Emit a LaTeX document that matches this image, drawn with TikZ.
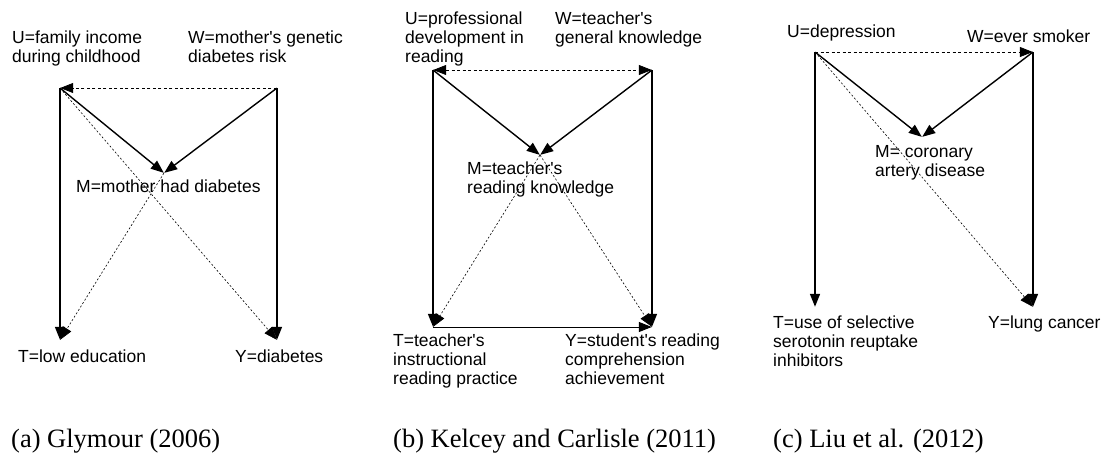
\documentclass[tikz,border=0pt]{standalone}
\usepackage{fontspec}
\setmainfont{Liberation Sans}
\newfontfamily\capfont{Liberation Serif}
\usetikzlibrary{arrows.meta}
\newcommand\ap{\textquotesingle}
\begin{document}
\begin{tikzpicture}[x=1pt,y=-1pt,
  lbl/.style={anchor=base west,inner sep=0pt,align=left,font=\fontsize{17.5}{19}\selectfont},
  captext/.style={anchor=base west,inner sep=0pt,font=\capfont\fontsize{26.5}{30}\selectfont},
  pt/.style={inner sep=0pt,minimum size=0pt},
  tip/.style={-{Triangle[length=13pt,width=10pt]}},
  solidarr/.style={tip,line width=1.4pt},
  vline/.style={tip,line width=1.6pt},
  dasharr/.style={tip,line width=0.8pt,dash pattern=on 3pt off 2.5pt},
  dotarr/.style={tip,line width=0.6pt,dash pattern=on 2pt off 2pt},
  bidash/.style={{Triangle[length=13pt,width=10pt]}-{Triangle[length=13pt,width=10pt]},line width=0.8pt,dash pattern=on 3pt off 2.5pt}]
\useasboundingbox (0,0) rectangle (1108,454);
% ---------- panel (a) ----------
\node[pt] (aU) at (60,88) {};
\node[pt] (aW) at (277,88) {};
\node[pt] (aM) at (164,173) {};
\node[pt] (aT) at (60,340) {};
\node[pt] (aY) at (277,340) {};
\node[lbl] (aUl) at (12,63) {U=family income\\during childhood};
\node[lbl] (aWl) at (188,63) {W=mother\ap s genetic\\diabetes risk};
\node[lbl] (aMl) at (76,193) {M=mother had diabetes};
\node[lbl] (aTl) at (18,362) {T=low education};
\node[lbl] (aYl) at (235,362) {Y=diabetes};
\draw[dasharr] (aW) -- (aU);
\draw[solidarr] (aU) -- (aM);
\draw[solidarr] (aW) -- (aM);
\draw[vline] (aU) -- (aT);
\draw[vline] (aW) -- (aY);
\draw[dotarr] (aU) -- (aY);
\draw[dotarr] (aM) -- (aT);
% ---------- panel (b) ----------
\node[pt] (bU) at (433,70) {};
\node[pt] (bW) at (652,70) {};
\node[pt] (bM) at (540,155) {};
\node[pt] (bT) at (433,327) {};
\node[pt] (bY) at (652,327) {};
\node[lbl] (bUl) at (405,63) {U=professional\\development in\\reading};
\node[lbl] (bWl) at (555,44) {W=teacher\ap s\\general knowledge};
\node[lbl] (bMl) at (467,194) {M=teacher\ap s\\reading knowledge};
\node[lbl] (bTl) at (393,384) {T=teacher\ap s\\instructional\\reading practice};
\node[lbl] (bYl) at (565,384) {Y=student\ap s reading\\comprehension\\achievement};
\draw[bidash] (bU) -- (bW);
\draw[solidarr] (bU) -- (bM);
\draw[solidarr] (bW) -- (bM);
\draw[vline] (bU) -- (bT);
\draw[vline] (bW) -- (bY);
\draw[tip,line width=1pt] (bT) -- (bY);
\draw[dotarr] (bM) -- (bT);
\draw[dotarr] (bM) -- (bY);
% ---------- panel (c) ----------
\node[pt] (cU) at (815,52) {};
\node[pt] (cW) at (1033,52) {};
\node[pt] (cM) at (922,137) {};
\node[pt] (cT) at (815,307) {};
\node[pt] (cY) at (1033,307) {};
\node[lbl] (cUl) at (787,38) {U=depression};
\node[lbl] (cWl) at (967,43) {W=ever smoker};
\node[lbl] (cMl) at (875,177) {M= coronary\\artery disease};
\node[lbl] (cTl) at (773,366) {T=use of selective\\serotonin reuptake\\inhibitors};
\node[lbl] (cYl) at (988,328) {Y=lung cancer};
\draw[dasharr] (cU) -- (cW);
\draw[solidarr] (cU) -- (cM);
\draw[solidarr] (cW) -- (cM);
\draw[vline] (cU) -- (cT);
\draw[vline] (cW) -- (cY);
\draw[dotarr] (cU) -- (cY);
% ---------- captions ----------
\node[captext] (capa) at (11,447) {(a) Glymour (2006)};
\node[captext] (capb) at (393,447) {(b) Kelcey and Carlisle (2011)};
\node[captext] (capc) at (773,447) {(c) Liu et al. (2012)};
\end{tikzpicture}
\end{document}
